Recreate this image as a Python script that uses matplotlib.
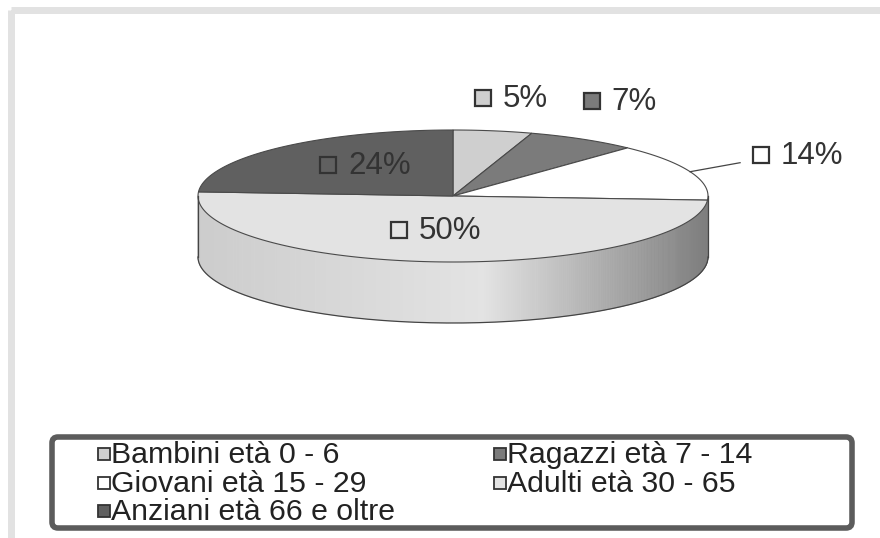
import matplotlib.pyplot as plt
import numpy as np
from matplotlib.patches import Polygon, FancyBboxPatch, Rectangle
from matplotlib.collections import PolyCollection

plt.rcParams['font.family'] = ['Liberation Sans', 'DejaVu Sans']

# dati
categories = ["Bambini età 0 - 6", "Ragazzi età 7 - 14", "Giovani età 15 - 29",
              "Adulti età 30 - 65", "Anziani età 66 e oltre"]
shares = [5, 7, 14, 50, 24]
pct_labels = ["5%", "7%", "14%", "50%", "24%"]

# stile
colors = ["#cfcfcf", "#7b7b7b", "#ffffff", "#e3e3e3", "#606060"]
label_offsets = [(-10, -33), (9, -38), (71, -17), (-38, -32), (50, 17)]  # px, dal bordo
leader = [False, False, True, False, False]

W, H = 880, 538
cx, cy, a, b, depth = 453, 196, 255, 66, 61

fig = plt.figure(figsize=(W / 100, H / 100), dpi=100)
ax = fig.add_axes([0, 0, 1, 1])
ax.set_xlim(0, W)
ax.set_ylim(H, 0)
ax.axis('off')


def rim(t, dz=0.0):
    t = np.radians(t)
    return cx + a * np.sin(t), cy - b * np.cos(t) + dz


def shade(x):
    # luce: chiaro a sinistra-centro, scuro a destra
    return np.interp(x, [cx - a, cx + 30, cx + a], [0.90, 1.0, 0.55])


# cornice grigia chiara (bordo del grafico)
ax.add_patch(Rectangle((11, 10), W, H, fill=False, ec="#e2e2e2", lw=5))

ends = np.cumsum(shares) / sum(shares) * 360
starts = np.concatenate([[0], ends[:-1]])

# fianco del cilindro
for s, e, c in zip(starts, ends, colors):
    lo, hi = max(s, 90), min(e, 270)
    if lo >= hi:
        continue
    ts = np.linspace(lo, hi, int((hi - lo) * 2) + 2)
    base = np.array(plt.matplotlib.colors.to_rgb(c))
    quads, fcs = [], []
    for t0, t1 in zip(ts[:-1], ts[1:]):
        x0, y0 = rim(t0)
        x1, y1 = rim(t1)
        quads.append([(x0, y0), (x1, y1), (x1, y1 + depth), (x0, y0 + depth)])
        fcs.append(np.clip(base * shade((x0 + x1) / 2), 0, 1))
    ax.add_collection(PolyCollection(quads, facecolors=fcs, edgecolors=fcs, lw=0.5))

# contorno del fianco
tt = np.linspace(90, 270, 200)
bx, by = rim(tt, depth)
ax.plot(bx, by, color="#444444", lw=0.9)
for t in (90, 270):
    x, y = rim(t)
    ax.plot([x, x], [y, y + depth], color="#444444", lw=0.9)

# faccia superiore
for s, e, c in zip(starts, ends, colors):
    ts = np.linspace(s, e, 200)
    px, py = rim(ts)
    pts = [(cx, cy)] + list(zip(px, py))
    ax.add_patch(Polygon(pts, closed=True, fc=c, ec="#4a4a4a", lw=0.8))

# etichette percentuali
for s, e, c, lab, off, ld in zip(starts, ends, colors, pct_labels, label_offsets, leader):
    mx, my = rim((s + e) / 2)
    sx, sy = mx + off[0], my + off[1]
    if ld:
        ax.plot([mx, sx - 21], [my, sy + 8], color="#444444", lw=0.9)
    ax.plot(sx, sy, marker='s', ms=11, mfc=c, mec="#333333", mew=1.6)
    ax.text(sx + 20, sy + 1, lab, fontsize=22.5, color="#333333", va='center', ha='left')

# legenda
ax.add_patch(FancyBboxPatch((52, 437), 800, 91, boxstyle="round,pad=0,rounding_size=6",
                            fc="white", ec="#5c5c5c", lw=4))
row_y = [454, 483, 511]
col_x = [104, 500]
for i, (name, c) in enumerate(zip(categories, colors)):
    x, y = col_x[i % 2], row_y[i // 2]
    ax.plot(x, y, marker='s', ms=8, mfc=c, mec="#333333", mew=1.3)
    ax.text(x + 7, y + 1, name, fontsize=21.8, color="#222222", va='center', ha='left')

fig.savefig("out.png", dpi=100)
